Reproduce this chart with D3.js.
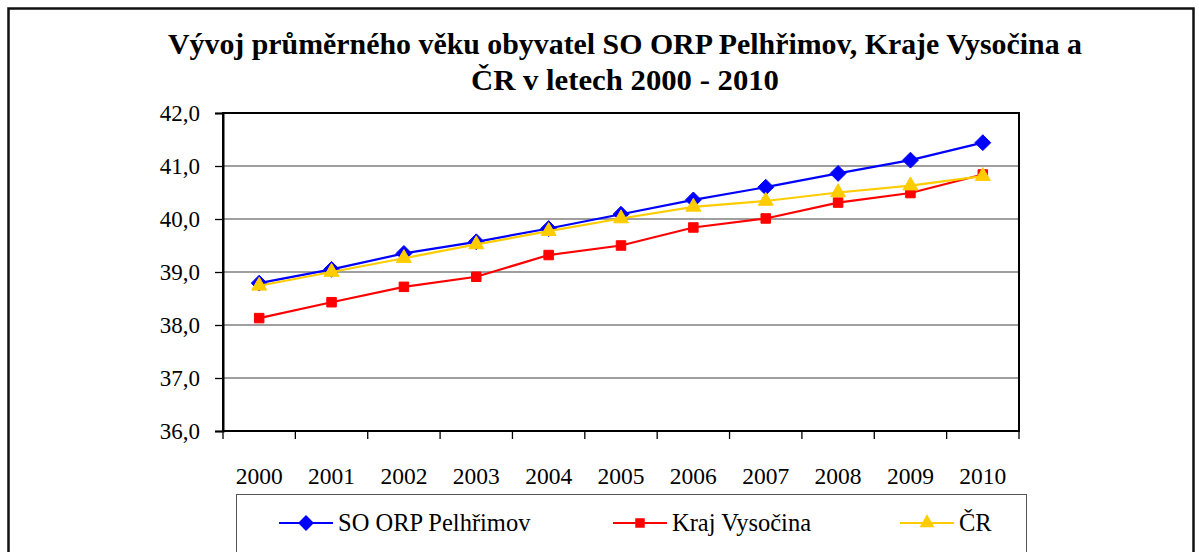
<!DOCTYPE html>
<html>
<head>
<meta charset="utf-8">
<script src="https://cdn.jsdelivr.net/npm/d3@7"></script>
<style>
	body { margin: 0; background: white; }
</style>
</head>
<body>
<svg id="chart" width="1199" height="552"></svg>
<script>
var years = ["2000", "2001", "2002", "2003", "2004", "2005", "2006", "2007", "2008", "2009", "2010"];
var pelhrimov = [38.79, 39.05, 39.35, 39.57, 39.82, 40.09, 40.36, 40.60, 40.86, 41.11, 41.44];
var vysocina = [38.13, 38.43, 38.72, 38.91, 39.32, 39.50, 39.84, 40.01, 40.31, 40.49, 40.84];
var cr = [38.74, 39.00, 39.26, 39.52, 39.77, 40.01, 40.23, 40.34, 40.50, 40.63, 40.81];
var yTicks = [36, 37, 38, 39, 40, 41, 42];
var seriesNames = ["SO ORP Pelhřimov", "Kraj Vysočina", "ČR"];

var serif = "'Liberation Serif', 'Times New Roman', serif";

var series = [
	{ name: seriesNames[0], values: pelhrimov, color: "#0000FF", symbol: d3.symbolDiamond2, size: 160 },
	{ name: seriesNames[1], values: vysocina, color: "#FF0000", symbol: d3.symbolSquare2, size: 115 },
	{ name: seriesNames[2], values: cr, color: "#FFCC00", symbol: d3.symbolTriangle2, size: 160 }
];

var svg = d3.select("#chart");

// outer frame of the chart object
svg.append("rect")
	.attr("x", 8.5).attr("y", 8.5)
	.attr("width", 1185).attr("height", 600)
	.attr("fill", "white")
	.attr("stroke", "#111")
	.attr("stroke-width", 2.5);

// title
var title = svg.append("g").attr("font-weight", "bold").attr("font-size", 29).attr("text-anchor", "middle");
title.append("text")
	.attr("x", 625).attr("y", 54)
	.attr("textLength", 914).attr("lengthAdjust", "spacingAndGlyphs")
	.style("font-family", serif)
	.text("Vývoj průměrného věku obyvatel SO ORP Pelhřimov, Kraje Vysočina a");
title.append("text")
	.attr("x", 625).attr("y", 90)
	.attr("textLength", 308).attr("lengthAdjust", "spacingAndGlyphs")
	.style("font-family", serif)
	.text("ČR v letech 2000 - 2010");

var plotLeft = 223, plotRight = 1019, plotTop = 113, plotBottom = 431;

var x = d3.scaleBand().domain(years).range([plotLeft, plotRight]);
var y = d3.scaleLinear().domain([36, 42]).range([plotBottom, plotTop]);
var fmt = function (d) { return d3.format(".1f")(d).replace(".", ","); };

// gridlines
svg.append("g")
	.selectAll("line")
	.data(yTicks.slice(1, -1))
	.enter().append("line")
	.attr("x1", plotLeft).attr("x2", plotRight)
	.attr("y1", function (d) { return y(d); })
	.attr("y2", function (d) { return y(d); })
	.attr("stroke", "#7f7f7f")
	.attr("stroke-width", 1.5);

// plot frame
svg.append("rect")
	.attr("x", plotLeft).attr("y", plotTop)
	.attr("width", plotRight - plotLeft).attr("height", plotBottom - plotTop)
	.attr("fill", "none")
	.attr("stroke", "#000")
	.attr("stroke-width", 2);

// y axis
var yAxis = svg.append("g")
	.attr("transform", "translate(" + plotLeft + ",0)")
	.call(d3.axisLeft(y).tickValues(yTicks).tickFormat(fmt).tickSize(8).tickPadding(15));
yAxis.select(".domain").attr("stroke", "#000").attr("stroke-width", 2);
yAxis.selectAll(".tick line").attr("stroke", "#000").attr("stroke-width", 1.3);
yAxis.selectAll("text").attr("font-size", 23).attr("fill", "#000").style("font-family", serif);

// x axis: labels centred in bands, ticks on band edges
var xAxis = svg.append("g")
	.attr("transform", "translate(0," + plotBottom + ")")
	.call(d3.axisBottom(x).tickSize(0).tickPadding(36));
xAxis.select(".domain").remove();
xAxis.selectAll("text").attr("font-size", 23.5).attr("fill", "#000").style("font-family", serif);
svg.append("g")
	.selectAll("line")
	.data(years.map(function (d) { return x(d); }).concat([plotRight]))
	.enter().append("line")
	.attr("x1", function (d) { return d; }).attr("x2", function (d) { return d; })
	.attr("y1", plotBottom).attr("y2", plotBottom + 8)
	.attr("stroke", "#000")
	.attr("stroke-width", 1.3);

var line = d3.line()
	.x(function (d, i) { return x(years[i]) + x.bandwidth() / 2; })
	.y(function (d) { return y(d); });

series.forEach(function (s) {
	var g = svg.append("g");
	g.append("path")
		.attr("d", line(s.values))
		.attr("fill", "none")
		.attr("stroke", s.color)
		.attr("stroke-width", 2.2);
	g.selectAll("path.marker")
		.data(s.values)
		.enter().append("path")
		.attr("class", "marker")
		.attr("d", d3.symbol().type(s.symbol).size(s.size))
		.attr("transform", function (d, i) {
			return "translate(" + (x(years[i]) + x.bandwidth() / 2) + "," + y(d) + ")";
		})
		.attr("fill", s.color)
		.attr("stroke", s.color)
		.attr("stroke-width", 1);
});

// legend
var legend = svg.append("g");
legend.append("rect")
	.attr("x", 236.5).attr("y", 494.5)
	.attr("width", 790).attr("height", 80)
	.attr("fill", "white")
	.attr("stroke", "#555")
	.attr("stroke-width", 1);

var legendX = [279, 613, 900];
series.forEach(function (s, i) {
	var item = legend.append("g").attr("transform", "translate(" + legendX[i] + ",523)");
	item.append("line")
		.attr("x1", 0).attr("x2", 54)
		.attr("stroke", s.color).attr("stroke-width", 2.2);
	item.append("path")
		.attr("d", d3.symbol().type(s.symbol).size(s.size))
		.attr("transform", "translate(27,0)")
		.attr("fill", s.color);
	item.append("text")
		.attr("x", 59).attr("y", 8)
		.attr("font-size", 24.5)
		.style("font-family", serif)
		.text(s.name);
});
</script>
</body>
</html>
